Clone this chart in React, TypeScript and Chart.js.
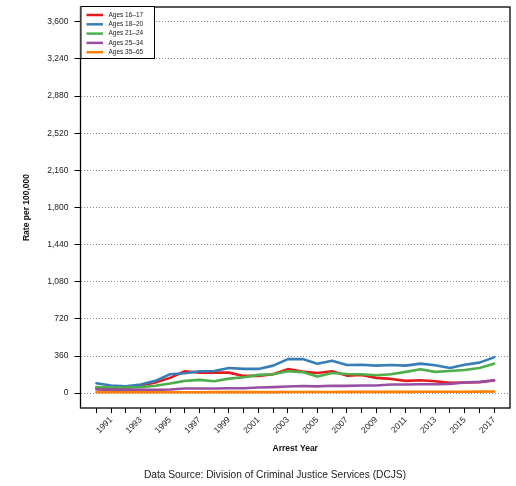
import React, { useEffect, useRef } from "react";
import { Chart, registerables } from "chart.js";

Chart.register(...registerables);

const years = [1990, 1991, 1992, 1993, 1994, 1995, 1996, 1997, 1998, 1999, 2000, 2001, 2002, 2003, 2004, 2005, 2006, 2007, 2008, 2009, 2010, 2011, 2012, 2013, 2014, 2015, 2016, 2017];

const ages16to17 = [50, 45, 48, 74, 103, 148, 212, 199, 199, 199, 167, 167, 183, 233, 209, 196, 212, 170, 177, 148, 138, 119, 125, 116, 100, 103, 106, 122];
const ages18to20 = [96, 74, 67, 84, 119, 183, 193, 212, 215, 244, 235, 235, 267, 330, 330, 286, 315, 273, 276, 267, 273, 267, 286, 270, 244, 276, 296, 347];
const ages21to24 = [58, 55, 55, 58, 71, 93, 119, 129, 116, 141, 154, 177, 183, 212, 204, 161, 196, 186, 183, 174, 183, 206, 231, 206, 215, 225, 244, 286];
const ages25to34 = [35, 32, 32, 32, 32, 35, 45, 45, 45, 48, 48, 55, 58, 64, 69, 66, 71, 71, 74, 74, 84, 84, 87, 87, 90, 103, 109, 125];
const ages35to65 = [8, 8, 8, 8, 8, 9, 9, 9, 10, 10, 10, 10, 10, 11, 11, 11, 11, 12, 12, 12, 12, 12, 13, 13, 13, 14, 15, 16];

const seriesLabels = ["Ages 16\u201317", "Ages 18\u201320", "Ages 21\u201324", "Ages 25\u201334", "Ages 35\u201365"];
const seriesColors = ["#E41A1C", "#377EB8", "#4DAF4A", "#984EA3", "#FF7F00"];
const seriesValues = [ages16to17, ages18to20, ages21to24, ages25to34, ages35to65];

const yTicks = [0, 360, 720, 1080, 1440, 1800, 2160, 2520, 2880, 3240, 3600];

const xTitle = "Arrest Year";
const yTitle = "Rate per 100,000";
const sourceNote = "Data Source: Division of Criminal Justice Services (DCJS)";

const FONT = "'Liberation Sans', Arial, sans-serif";

const overlayPlugin = {
  id: "overlay",
  afterDatasetsDraw(chart: any) {
    const { ctx, chartArea } = chart;
    const { left, top, right, bottom } = chartArea;
    ctx.save();
    // plot box
    ctx.strokeStyle = "#000";
    ctx.lineWidth = 1.3;
    ctx.setLineDash([]);
    ctx.strokeRect(left, top, right - left, bottom - top);

    // legend
    const lx = left, ly = top - 1, lw = 73.5, lh = 52;
    ctx.fillStyle = "#fff";
    ctx.fillRect(lx, ly, lw, lh);
    ctx.lineWidth = 1;
    ctx.strokeStyle = "#000";
    ctx.strokeRect(lx + 0.5, ly + 0.5, lw, lh);
    ctx.font = `6.5px ${FONT}`;
    ctx.textBaseline = "middle";
    ctx.textAlign = "left";
    seriesLabels.forEach((lab, i) => {
      const y = ly + 9 + i * 9.3;
      ctx.strokeStyle = seriesColors[i];
      ctx.lineWidth = 2.5;
      ctx.beginPath();
      ctx.moveTo(lx + 6, y);
      ctx.lineTo(lx + 22.5, y);
      ctx.stroke();
      ctx.fillStyle = "#222";
      ctx.fillText(lab, lx + 28, y);
    });

    // axis titles
    ctx.fillStyle = "#111";
    ctx.font = `bold 8.5px ${FONT}`;
    ctx.textAlign = "center";
    ctx.textBaseline = "middle";
    ctx.fillText(xTitle, (left + right) / 2, 449);
    ctx.save();
    ctx.translate(27, (top + bottom) / 2);
    ctx.rotate(-Math.PI / 2);
    ctx.fillText(yTitle, 0, 0);
    ctx.restore();

    ctx.font = `10.2px ${FONT}`;
    ctx.fillStyle = "#222";
    ctx.fillText(sourceNote, 275, 475);
    ctx.restore();
  },
};

export default function App() {
  const ref = useRef<HTMLCanvasElement | null>(null);
  useEffect(() => {
    if (!ref.current) return;
    const chart = new Chart(ref.current, {
      type: "line",
      data: {
        datasets: seriesValues.map((vals, i) => ({
          label: seriesLabels[i],
          data: years.map((yr, j) => ({ x: yr, y: vals[j] })),
          borderColor: seriesColors[i],
          backgroundColor: seriesColors[i],
          borderWidth: 2.6,
          pointRadius: 0,
          tension: 0,
          fill: false,
          borderCapStyle: "round",
          borderJoinStyle: "round",
          order: seriesValues.length - i,
        })),
      },
      options: {
        responsive: false,
        animation: false,
        devicePixelRatio: 1,
        layout: { padding: { top: 7, right: 6, left: 0, bottom: 0 } },
        plugins: { legend: { display: false }, tooltip: { enabled: false } },
        scales: {
          x: {
            type: "linear",
            min: 1988.92,
            max: 2018.08,
            afterBuildTicks: (scale: any) => {
              scale.ticks = years.map((v) => ({ value: v }));
            },
            afterFit: (scale: any) => {
              scale.height = 78;
              scale.paddingLeft = 0;
              scale.paddingRight = 0;
            },
            ticks: {
              autoSkip: false,
              minRotation: 45,
              maxRotation: 45,
              padding: 2,
              color: "#222",
              font: { family: FONT, size: 8.5 },
              callback: (v: any) => (Number(v) % 2 === 1 ? String(v) : ""),
            },
            grid: {
              drawOnChartArea: false,
              drawTicks: true,
              tickLength: 5,
              tickColor: "#000",
              tickWidth: 1,
            },
            border: { display: false },
          },
          y: {
            type: "linear",
            min: -144,
            max: 3744,
            afterBuildTicks: (scale: any) => {
              scale.ticks = yTicks.map((v) => ({ value: v }));
            },
            afterFit: (scale: any) => {
              scale.width = 80.5;
              scale.paddingTop = 0;
              scale.paddingBottom = 0;
            },
            ticks: {
              padding: 6,
              color: "#222",
              font: { family: FONT, size: 8.5 },
              callback: (v: any) => Number(v).toLocaleString("en-US"),
            },
            grid: {
              drawOnChartArea: true,
              drawTicks: true,
              tickLength: 6,
              tickColor: "#000",
              tickWidth: 1,
              color: "#888",
              lineWidth: 1,
              tickBorderDash: [],
            },
            border: { display: false, dash: [1, 2] },
          },
        },
      },
      plugins: [overlayPlugin],
    });
    return () => chart.destroy();
  }, []);
  return (
    <canvas
      ref={ref}
      width={516}
      height={486}
      style={{ position: "absolute", left: 0, top: 0, width: 516, height: 486, display: "block" }}
    />
  );
}
